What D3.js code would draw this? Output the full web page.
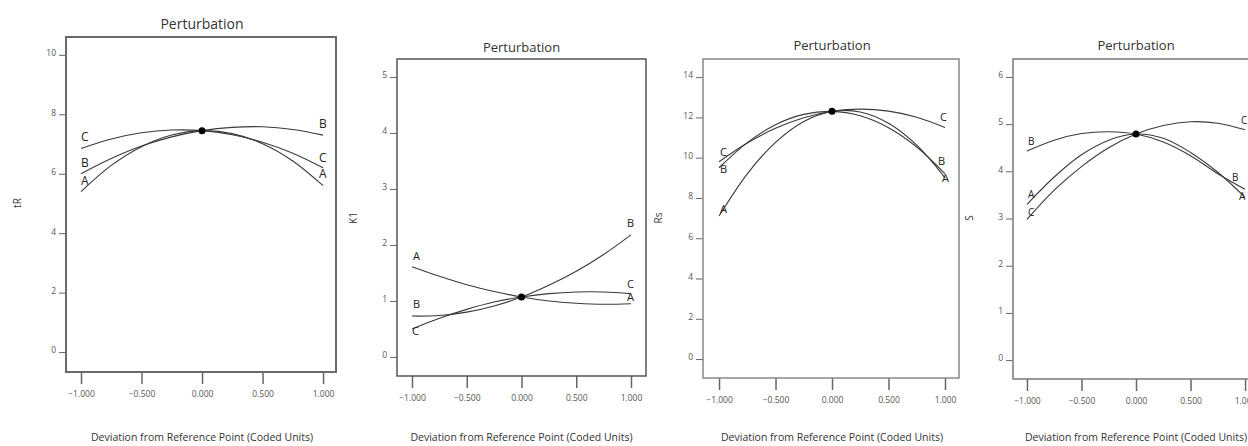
<!DOCTYPE html>
<html><head><meta charset="utf-8">
<script src="https://cdn.jsdelivr.net/npm/d3@7"></script>
<style>body{margin:0;background:#fff}svg{display:block}text{font-family:"Open Sans","Noto Sans",sans-serif}</style>
</head><body><svg id="c" width="1248" height="446"></svg>
<script>
// deviation from reference point (coded units)
const xPoints = [-1, -0.75, -0.5, -0.25, 0, 0.25, 0.5, 0.75, 1];
const xTicks = [-1, -0.5, 0, 0.5, 1];
const seriesNames = ["A", "B", "C"];

// Panel 1: tR
const tR_A = [5.40, 6.28, 6.91, 7.30, 7.45, 7.35, 7.01, 6.43, 5.60];
const tR_B = [6.00, 6.51, 6.93, 7.24, 7.45, 7.56, 7.58, 7.49, 7.30];
const tR_C = [6.85, 7.17, 7.38, 7.47, 7.45, 7.31, 7.06, 6.69, 6.20];
const tR_ticks = [0, 2, 4, 6, 8, 10];
const tR_ref = 7.45;

// Panel 2: K1
const K1_A = [1.61, 1.44, 1.29, 1.17, 1.07, 1.00, 0.96, 0.94, 0.95];
const K1_B = [0.73, 0.74, 0.80, 0.91, 1.07, 1.28, 1.53, 1.83, 2.18];
const K1_C = [0.50, 0.69, 0.85, 0.98, 1.07, 1.13, 1.16, 1.16, 1.13];
const K1_ticks = [0, 1, 2, 3, 4, 5];
const K1_ref = 1.07;

// Panel 3: Rs
const Rs_A = [7.10, 9.20, 10.76, 11.80, 12.30, 12.27, 11.71, 10.62, 9.00];
const Rs_B = [9.50, 10.75, 11.64, 12.15, 12.30, 12.08, 11.49, 10.53, 9.20];
const Rs_C = [9.80, 10.73, 11.46, 11.98, 12.30, 12.41, 12.31, 12.01, 11.50];
const Rs_ticks = [0, 2, 4, 6, 8, 10, 12, 14];
const Rs_ref = 12.30;

// Panel 4: S
const S_A = [3.30, 3.88, 4.35, 4.66, 4.79, 4.70, 4.40, 3.98, 3.45];
const S_B = [4.43, 4.66, 4.80, 4.84, 4.79, 4.62, 4.33, 3.95, 3.62];
const S_C = [2.98, 3.60, 4.10, 4.50, 4.79, 4.97, 5.05, 5.02, 4.88];
const S_ticks = [0, 1, 2, 3, 4, 5, 6];
const S_ref = 4.79;

const panels = [
  {ylab:"tR", series:[tR_A,tR_B,tR_C], ticks:tR_ticks, ref:tR_ref,
   box:[66,336,37,372], xd:[-1.124,1.107], yd:[-0.67,10.6],
   titleY:29, titleSize:14, ylabX:17, ylabY:203, stroke:"#6a6a6a", sw:2, lab:12,
   labL:[[0,-7],[0,-7],[0,-7]], labR:[[-4,-8],[-4,-7],[-4,-6]]},
  {ylab:"K1", series:[K1_A,K1_B,K1_C], ticks:K1_ticks, ref:K1_ref,
   box:[397,646,59,376], xd:[-1.137,1.137], yd:[-0.34,5.32],
   titleY:52, titleSize:13, ylabX:353, ylabY:218, stroke:"#555", sw:1.5, lab:11,
   labL:[[1,-7],[1,-8],[0,6]], labR:[[-4,-3],[-4,-8],[-4,-6]]},
  {ylab:"Rs", series:[Rs_A,Rs_B,Rs_C], ticks:Rs_ticks, ref:Rs_ref,
   box:[703,959,59,378], xd:[-1.142,1.124], yd:[-0.94,14.9],
   titleY:50, titleSize:13, ylabX:658, ylabY:218, stroke:"#888", sw:1.5, lab:11,
   labL:[[1,-3],[1,5],[1,-6]], labR:[[-3,4],[-7,-9],[-5,-6]]},
  {ylab:"S", series:[S_A,S_B,S_C], ticks:S_ticks, ref:S_ref,
   box:[1013,1259,59,379], xd:[-1.128,1.128], yd:[-0.40,6.38],
   titleY:50, titleSize:13, ylabX:969, ylabY:218, stroke:"#777", sw:1.5, lab:10,
   labL:[[1,-6],[1,-6],[1,-3]], labR:[[-6,3],[-13,-8],[-4,-6]]}
];

const svg = d3.select("#c");
const fmtX = d3.format(".3f");

panels.forEach(p => {
  const [x0,x1,y0,y1] = p.box;
  const x = d3.scaleLinear().domain(p.xd).range([x0,x1]);
  const y = d3.scaleLinear().domain(p.yd).range([y1,y0]);
  const g = svg.append("g");

  // y axis (ticks + labels)
  const ya = g.append("g").attr("transform",`translate(${x0},0)`)
    .call(d3.axisLeft(y).tickValues(p.ticks).tickSize(7).tickPadding(3).tickFormat(d3.format("d")));
  ya.select(".domain").remove();
  ya.selectAll("line").attr("stroke","#666").attr("stroke-width",1);
  ya.selectAll("text").attr("fill","#555").style("font-size","8.5px").attr("dy","0.1em");

  // x axis
  const xa = g.append("g").attr("transform",`translate(0,${y1})`)
    .call(d3.axisBottom(x).tickValues(xTicks).tickSize(12).tickPadding(7).tickFormat(fmtX));
  xa.select(".domain").remove();
  xa.selectAll("line").attr("stroke","#666").attr("stroke-width",1.5);
  xa.selectAll("text").attr("fill","#555").style("font-size","8.5px");

  // box
  g.append("rect").attr("x",x0).attr("y",y0).attr("width",x1-x0).attr("height",y1-y0)
    .attr("fill","none").attr("stroke",p.stroke).attr("stroke-width",p.sw);

  // curves
  const line = d3.line().x((d,i)=>x(xPoints[i])).y(d=>y(d)).curve(d3.curveCatmullRom.alpha(0.5));
  p.series.forEach((s,k) => {
    g.append("path").datum(s).attr("d",line).attr("fill","none")
      .attr("stroke","#3a3a3a").attr("stroke-width",1.1);
    const n = s.length-1;
    g.append("text").attr("x",x(xPoints[0])+p.labL[k][0]).attr("y",y(s[0])+p.labL[k][1])
      .attr("fill","#222").style("font-size",p.lab+"px").text(seriesNames[k]);
    g.append("text").attr("x",x(xPoints[n])+p.labR[k][0]).attr("y",y(s[n])+p.labR[k][1])
      .attr("fill","#222").style("font-size",p.lab+"px").text(seriesNames[k]);
  });

  // reference point
  g.append("circle").attr("cx",x(0)).attr("cy",y(p.ref)).attr("r",3.5).attr("fill","#000");

  // titles
  const cx = x(0);
  g.append("text").attr("x",cx).attr("y",p.titleY).attr("text-anchor","middle")
    .attr("fill","#333").style("font-size",p.titleSize+"px").text("Perturbation");
  g.append("text").attr("x",cx).attr("y",441).attr("text-anchor","middle")
    .attr("fill","#333").style("font-size","10.5px").text("Deviation from Reference Point (Coded Units)");
  g.append("text").attr("transform",`translate(${p.ylabX},${p.ylabY}) rotate(-90)`)
    .attr("text-anchor","middle").attr("dy","0.35em")
    .attr("fill","#333").style("font-size","10px").text(p.ylab);
});
</script></body></html>
